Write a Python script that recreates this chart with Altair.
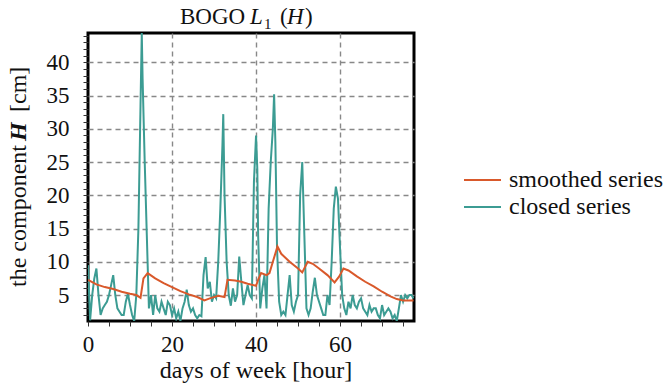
import altair as alt
import pandas as pd

# closed series: hour -> H [cm]
closed_hours = [
    0, 0.5, 1, 1.5, 2, 2.5, 3, 3.5, 4, 4.5, 5, 5.5, 6, 6.5, 7, 7.5, 8, 8.5, 9, 9.5,
    10, 10.5, 11, 11.5, 12, 12.5, 12.8, 13, 13.5, 14, 14.5, 15, 15.5, 16, 16.5, 17,
    17.5, 18, 18.5, 19, 19.5, 20, 20.5, 21, 21.5, 22, 22.5, 23, 23.5, 24, 24.5, 25,
    25.5, 26, 26.5, 27, 27.5, 28, 28.5, 29, 29.5, 30, 30.5, 31, 31.5, 32, 32.2, 32.5,
    33, 33.5, 34, 34.5, 35, 35.5, 36, 36.5, 37, 37.5, 38, 38.5, 39, 39.5, 40, 40.3,
    40.5, 41, 41.5, 42, 42.5, 43, 43.5, 44, 44.3, 44.6, 45, 45.5, 46, 46.5, 47, 47.5,
    48, 48.5, 49, 49.5, 50, 50.5, 51, 51.5, 52, 52.5, 53, 53.5, 54, 54.5, 55, 55.5,
    56, 56.5, 57, 57.5, 58, 58.5, 59, 59.5, 60, 60.5, 61, 61.5, 62, 62.5, 63, 63.5,
    64, 64.5, 65, 65.5, 66, 66.5, 67, 67.5, 68, 68.5, 69, 69.5, 70, 70.5, 71, 71.5,
    72, 72.5, 73, 73.5, 74, 74.5, 75, 75.5, 76, 76.5, 77, 77.5,
]
closed_h = [
    9.5, 1.2, 5, 7.5, 9, 5, 2, 3, 3.5, 4, 5, 6.5, 8, 5, 3, 2.5, 2, 2, 4, 5.2,
    3.5, 2, 1.1, 5, 15, 33.5, 44.4, 37.5, 25, 14, 3, 5, 2, 5, 3, 2.5,
    4, 3, 2, 4, 3.5, 2, 3, 1.5, 2.5, 1.1, 3, 4, 5.8, 3.5, 2.5, 3,
    2, 1.5, 2, 1.8, 8, 10.7, 6, 7, 4, 5, 4.5, 10, 18, 27.5, 32.2, 20,
    10, 5, 3.4, 6, 4, 5, 10.8, 7, 3.5, 5, 6.5, 5, 4.5, 22, 29, 24,
    14, 3, 6, 8, 3, 18, 25, 30, 35.2, 28, 12, 4, 2, 2.5, 2, 5,
    8, 3.5, 2.5, 4, 5, 20, 25, 14, 3, 2, 3, 5.5, 7.6, 5, 4, 3,
    2, 2, 5, 3.5, 10, 18, 21.3, 19.5, 12, 5, 3, 2, 4, 3, 5, 3.5,
    3, 4, 4.5, 3, 2.5, 2, 3.5, 2.5, 3, 3, 2, 1.5, 3.5, 2, 2.5, 3,
    2.5, 1.5, 2, 1.1, 3, 5, 4, 5, 4.5, 5, 5, 4.5,
]

# smoothed series: hour -> H [cm]
smooth_hours = [
    0, 2, 4, 6, 8, 10, 11.5, 12.5, 13.2, 14.2, 16, 18, 20, 22, 24, 26, 27.7, 29,
    31, 32.5, 33.2, 35, 36.5, 38, 40, 40.5, 41.2, 42.5, 43.2, 44, 45.1, 46, 48, 50,
    51, 52.3, 53.5, 55, 57, 58.7, 59.8, 60.8, 62, 64, 66, 68, 70, 72, 73.5, 75, 77.5,
]
smooth_h = [
    7.3, 6.6, 6.2, 5.9, 5.5, 5.2, 5.0, 4.6, 7.5, 8.3, 7.5, 6.8, 6.2, 5.6, 5.1, 4.7, 4.2, 4.5,
    4.9, 4.7, 7.3, 7.2, 7.0, 6.7, 6.4, 7.3, 8.3, 8.0, 8.3, 10.0, 12.3, 11.2, 10.0, 9.0,
    8.4, 10.0, 9.7, 9.0, 8.0, 6.9, 7.8, 9.0, 8.7, 7.8, 7.0, 6.3, 5.5, 4.8, 4.4, 4.2, 4.2,
]

series_names = ["smoothed series", "closed series"]
series_colors = ["#d9592b", "#3c9c93"]

x_ticks = list(range(0, 80, 5))
y_ticks = list(range(2, 45))

W, H = 326, 288
FONT = "Liberation Serif"

closed_df = pd.DataFrame({"hour": closed_hours, "H": closed_h, "series": series_names[1]})
smooth_df = pd.DataFrame({"hour": smooth_hours, "H": smooth_h, "series": series_names[0]})

x_enc = alt.X(
    "hour:Q",
    scale=alt.Scale(domain=[0, 77.6], nice=False, zero=False),
    axis=alt.Axis(
        values=x_ticks,
        title=None,
        labelFlush=False,
        labelFont=FONT,
        labelFontSize=23,
        labelExpr="datum.value % 20 === 0 ? datum.label : ''",
        gridOpacity={"condition": {"test": "datum.value % 20 === 0 && datum.value > 0", "value": 1}, "value": 0},
    ),
)
y_enc = alt.Y(
    "H:Q",
    scale=alt.Scale(domain=[1.1, 44.4], nice=False, zero=False),
    axis=alt.Axis(
        values=y_ticks,
        title=None,
        labelFlush=False,
        labelFont=FONT,
        labelFontSize=23,
        labelExpr="datum.value % 5 === 0 ? datum.label : ''",
        gridOpacity={"condition": {"test": "datum.value % 5 === 0", "value": 1}, "value": 0},
    ),
)
color_enc = alt.Color(
    "series:N",
    scale=alt.Scale(domain=series_names, range=series_colors),
    legend=alt.Legend(
        title=None,
        orient="none",
        legendX=375,
        legendY=136,
        symbolType="stroke",
        symbolSize=1369,
        symbolStrokeWidth=2,
        labelFont=FONT,
        labelFontSize=24,
        labelColor="#111",
        labelOffset=7,
        clipHeight=22,
        rowPadding=3,
    ),
)

closed_line = alt.Chart(closed_df).mark_line(strokeWidth=2, clip=True).encode(
    x=x_enc, y=y_enc, color=color_enc
)
smooth_line = alt.Chart(smooth_df).mark_line(strokeWidth=2, clip=True).encode(
    x=x_enc, y=y_enc, color=color_enc
)


def label(text, x, y, size=24, style="normal", weight="normal", angle=0, align="left"):
    return alt.Chart(pd.DataFrame({"t": [text]})).mark_text(
        font=FONT, fontSize=size, fontStyle=style, fontWeight=weight,
        angle=angle, align=align, baseline="alphabetic", color="#111",
    ).encode(text="t:N", x=alt.value(x), y=alt.value(y))


# title: BOGO L_1 (H)
title_parts = [
    label("BOGO", 92, -9, size=23),
    label("L", 162, -9, size=23, style="italic"),
    label("1", 176, -4, size=15),
    label("(", 192, -9, size=23),
    label("H", 199, -9, size=23, style="italic"),
    label(")", 217, -9, size=23),
]
# y axis title: the component H [cm]
ytitle_parts = [
    label("the component", -62, 254, angle=270),
    label("H", -62, 108, style="italic", weight="bold", angle=270),
    label("[cm]", -62, 79, angle=270),
]
xtitle = label("days of week [hour]", 168, H + 57, align="center")

chart = alt.layer(
    closed_line, smooth_line, *title_parts, *ytitle_parts, xtitle
).properties(
    width=W,
    height=H,
    autosize="none",
    padding={"left": 88, "top": 33, "right": 666 - 88 - W, "bottom": 387 - 33 - H},
).configure(
    font=FONT
).configure_view(
    stroke="black", strokeWidth=3
).configure_axis(
    domain=False,
    grid=True,
    gridColor="#888888",
    gridDash=[5, 4],
    gridWidth=1.4,
    tickColor="#333",
    tickSize=5,
    tickWidth=1,
    labelColor="#111",
).configure_axisX(
    labelPadding=7,
).configure_axisY(
    labelPadding=14,
)

chart.save("out.html", embed_options={"renderer": "svg", "actions": False})
